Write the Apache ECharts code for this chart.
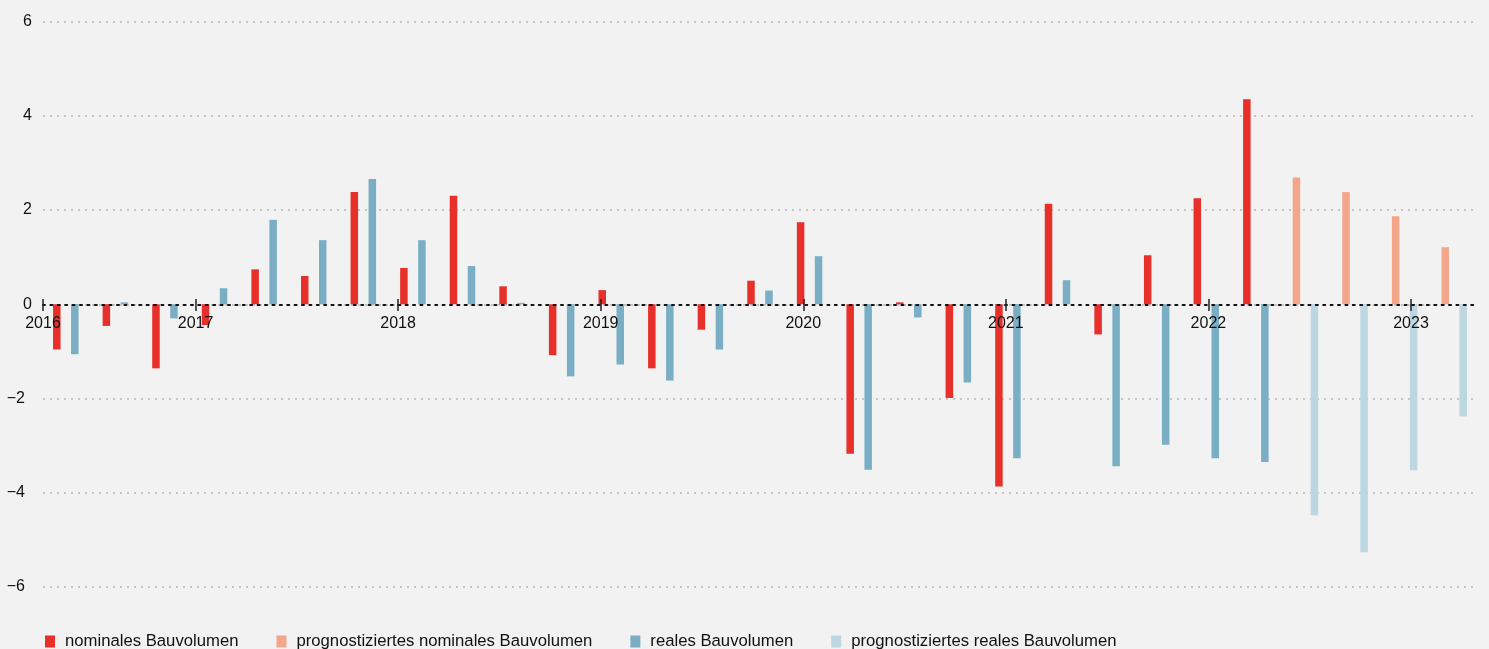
<!DOCTYPE html>
<html>
<head>
<meta charset="utf-8">
<script src="https://cdn.jsdelivr.net/npm/echarts@6/dist/echarts.min.js"></script>
<style>
  html, body { margin: 0; padding: 0; background: #f2f2f2; }
  #chart { width: 1489px; height: 649px; }
</style>
</head>
<body>
<div id="chart"></div>
<script>
// Quartale 2016 Q2 bis 2023 Q2, die letzten vier sind Prognose
const quarters = [
  '2016 Q2', '2016 Q3', '2016 Q4',
  '2017 Q1', '2017 Q2', '2017 Q3', '2017 Q4',
  '2018 Q1', '2018 Q2', '2018 Q3', '2018 Q4',
  '2019 Q1', '2019 Q2', '2019 Q3', '2019 Q4',
  '2020 Q1', '2020 Q2', '2020 Q3', '2020 Q4',
  '2021 Q1', '2021 Q2', '2021 Q3', '2021 Q4',
  '2022 Q1', '2022 Q2', '2022 Q3', '2022 Q4',
  '2023 Q1', '2023 Q2'
];

const nominal = [
  -0.96, -0.46, -1.36,
  -0.44, 0.74, 0.60, 2.38,
  0.77, 2.30, 0.38, -1.08,
  0.30, -1.36, -0.54, 0.50,
  1.74, -3.17, 0.04, -1.99,
  -3.87, 2.13, -0.64, 1.04,
  2.25, 4.35, null, null,
  null, null
];
const nominalForecast = [
  null, null, null, null, null, null, null, null, null, null,
  null, null, null, null, null, null, null, null, null, null,
  null, null, null, null, null,
  2.69, 2.38, 1.87, 1.21
];
const real = [
  -1.06, 0.04, -0.30,
  0.34, 1.79, 1.36, 2.66,
  1.36, 0.81, 0.03, -1.53,
  -1.28, -1.62, -0.96, 0.29,
  1.02, -3.51, -0.28, -1.66,
  -3.27, 0.51, -3.44, -2.98,
  -3.27, -3.35, null, null,
  null, null
];
const realForecast = [
  null, null, null, null, null, null, null, null, null, null,
  null, null, null, null, null, null, null, null, null, null,
  null, null, null, null, null,
  -4.48, -5.26, -3.52, -2.38
];

const years = [2016, 2017, 2018, 2019, 2020, 2021, 2022, 2023];

const names = [
  'nominales Bauvolumen',
  'prognostiziertes nominales Bauvolumen',
  'reales Bauvolumen',
  'prognostiziertes reales Bauvolumen'
];
const colors = ['#e7302a', '#f4a68b', '#7aaec5', '#bcd6e2'];

// Zeitachse für die Jahresmarken (beginnt im Frühjahr 2016)
const yearMin = 2016.247;
const yearMax = 2023.316;
const yearMarks = years.map(y => Math.max(y, yearMin));

const font = 'Liberation Sans, Arial, sans-serif';
const textColor = '#111';
const chart = echarts.init(document.getElementById('chart'));

function bar(name, data, stack, color) {
  return {
    name: name,
    type: 'bar',
    xAxisIndex: 0,
    yAxisIndex: 0,
    stack: stack,
    data: data,
    barWidth: 7.5,
    barGap: '140%',
    itemStyle: { color: color },
    emphasis: { disabled: true }
  };
}

function hiddenValue(grid, min, max) {
  return { type: 'value', gridIndex: grid, min: min, max: max, show: false };
}

const option = {
  backgroundColor: '#f2f2f2',
  animation: false,
  textStyle: { fontFamily: font },
  grid: [
    // 0: Balken
    { left: 41, right: 10, top: 21.5, bottom: 62 },
    // 1: y-Beschriftung und Rasterlinien
    { left: 43, right: 14, top: 21.5, bottom: 62 },
    // 2: Nulllinie mit Jahreszahlen (Unterkante = Wert 0)
    { left: 43, right: 14, top: 21.5, bottom: 344 },
    // 3: Jahresstriche, die die Nulllinie kreuzen
    { left: 43, right: 14, top: 21.5, bottom: 338 }
  ],
  legend: {
    data: names,
    left: 40,
    top: 628,
    itemWidth: 10,
    itemHeight: 12,
    itemGap: 38,
    icon: 'rect',
    textStyle: {
      fontFamily: font,
      fontSize: 16.7,
      color: textColor,
      padding: [0, 0, 0, 5]
    },
    selectedMode: false
  },
  xAxis: [
    {
      type: 'category',
      gridIndex: 0,
      data: quarters,
      axisLine: { show: false },
      axisTick: { show: false },
      axisLabel: { show: false },
      splitLine: { show: false }
    },
    hiddenValue(1, yearMin, yearMax),
    {
      type: 'value',
      gridIndex: 2,
      position: 'bottom',
      z: 10,
      min: yearMin,
      max: yearMax,
      axisLine: {
        onZero: false,
        lineStyle: { color: '#111', width: 2, type: [2, 5.4] }
      },
      axisTick: { show: false },
      axisLabel: {
        customValues: yearMarks,
        formatter: v => String(Math.floor(v)),
        margin: 11,
        fontSize: 16,
        color: textColor,
        fontFamily: font
      },
      splitLine: { show: false }
    },
    {
      type: 'value',
      gridIndex: 3,
      position: 'bottom',
      z: 10,
      min: yearMin,
      max: yearMax,
      axisLine: { show: false, onZero: false },
      axisTick: {
        show: true,
        customValues: yearMarks,
        inside: true,
        length: 12,
        lineStyle: { color: '#222', width: 1.5 }
      },
      axisLabel: { show: false },
      splitLine: { show: false }
    }
  ],
  yAxis: [
    hiddenValue(0, -6, 6),
    {
      type: 'value',
      gridIndex: 1,
      min: -6,
      max: 6,
      interval: 2,
      axisLine: { show: false },
      axisTick: { show: false },
      axisLabel: {
        margin: 11,
        fontSize: 16,
        color: textColor,
        fontFamily: font,
        formatter: v => (v < 0 ? '{neg|−' + Math.abs(v) + '}' : String(v)),
        rich: {
          neg: { fontSize: 16, color: textColor, fontFamily: font, padding: [0, 7, 0, 0] }
        }
      },
      splitLine: {
        lineStyle: { color: '#c6c6c6', width: 2, type: [2, 5] }
      }
    },
    hiddenValue(2, 0, 6),
    hiddenValue(3, 0, 6)
  ],
  series: [
    bar(names[0], nominal, 'nom', colors[0]),
    bar(names[1], nominalForecast, 'nom', colors[1]),
    bar(names[2], real, 'real', colors[2]),
    bar(names[3], realForecast, 'real', colors[3])
  ]
};

chart.setOption(option);
</script>
</body>
</html>
